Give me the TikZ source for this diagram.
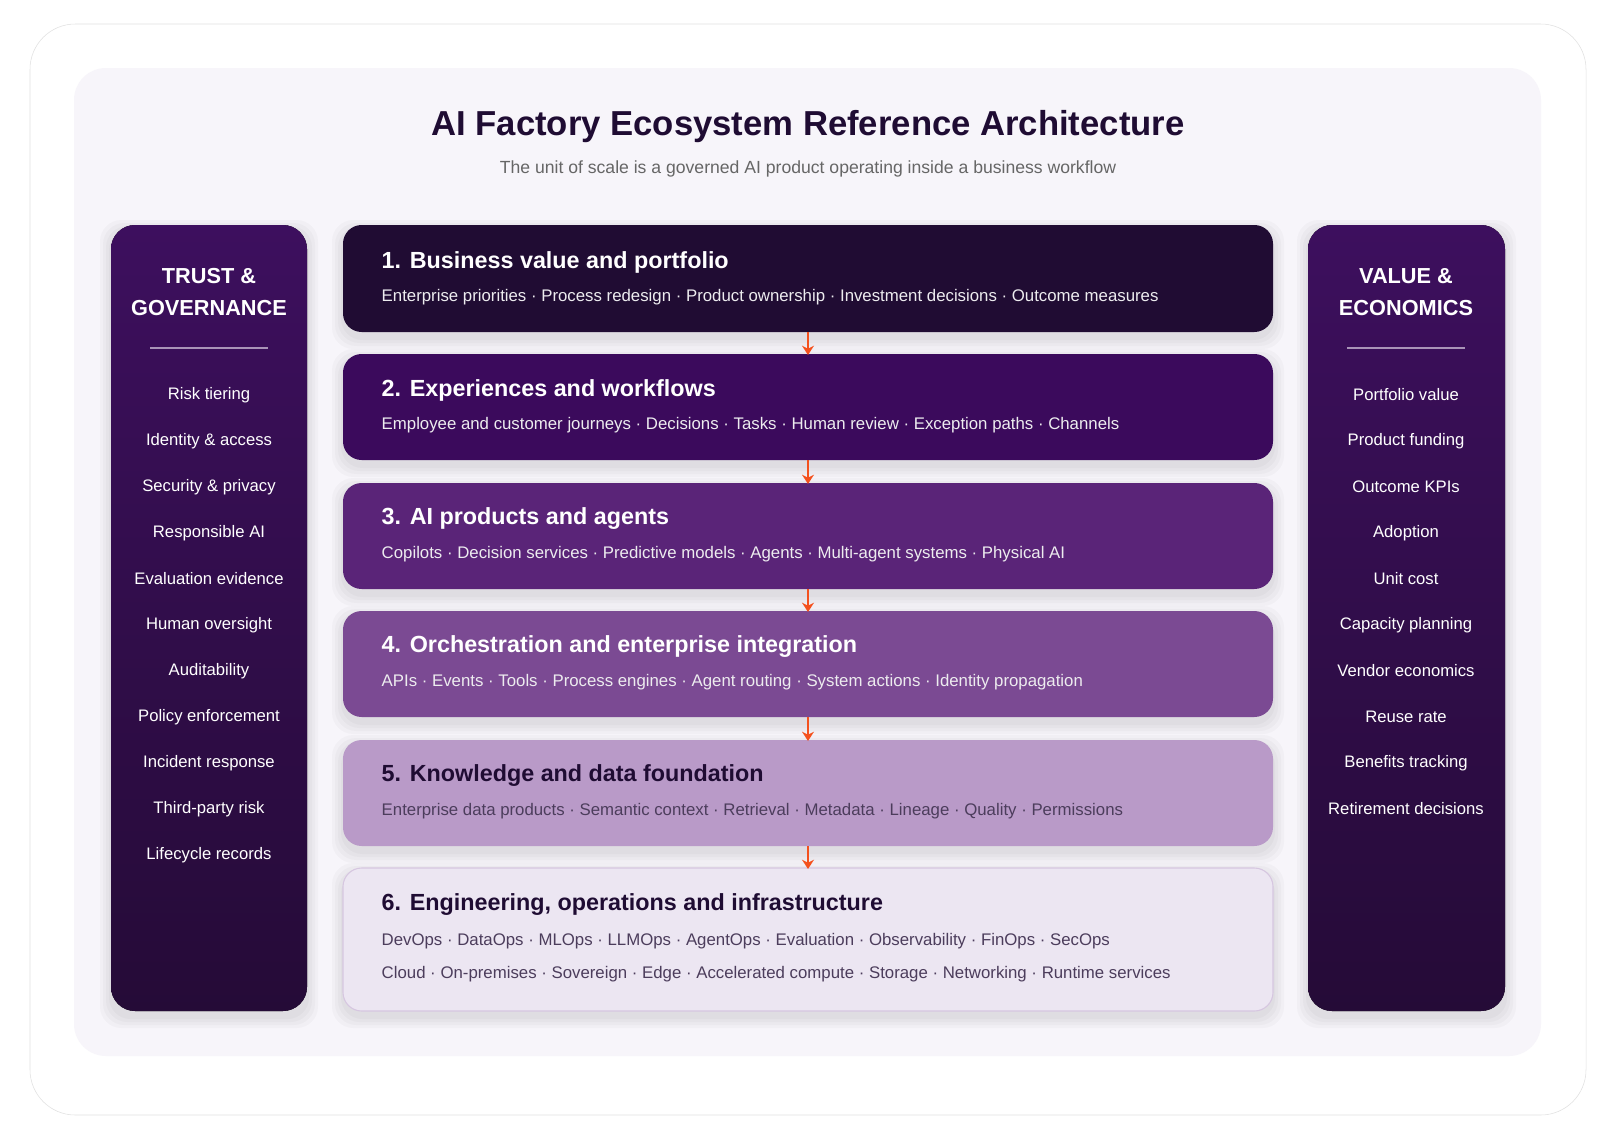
\documentclass[tikz,border=0pt]{standalone}
\usepackage{fontspec}
\setmainfont{Liberation Sans}
\usetikzlibrary{arrows.meta}
\definecolor{ink}{HTML}{1F0C33}
\definecolor{Lone}{HTML}{200C33}
\definecolor{Ltwo}{HTML}{3B0A5C}
\definecolor{Lthree}{HTML}{5A2478}
\definecolor{Lfour}{HTML}{7B4A93}
\definecolor{Lfive}{HTML}{B99AC8}
\definecolor{Lsix}{HTML}{ECE6F2}
\definecolor{Lsixb}{HTML}{D6C6E0}
\definecolor{sidetop}{HTML}{3D0F5E}
\definecolor{sidebot}{HTML}{250B37}
\definecolor{panel}{HTML}{F7F5FA}
\definecolor{arrowc}{HTML}{F4511E}
\newcommand\mysoftshadow[4]{%
  \foreach \e in {2,5,8,11}
    \fill[black,opacity=0.025,rounded corners=16pt] (#1-\e,#2-\e+6) rectangle (#3+\e,#4+\e+6);}
\begin{document}
\begin{tikzpicture}[x=0.75pt,y=-0.75pt,
  layer/.style={rounded corners=14pt},
  head/.style={anchor=west,font=\bfseries\fontsize{17.5}{20}\selectfont},
  sub/.style={anchor=west,font=\fontsize{12.6}{15}\selectfont},
  side/.style={rounded corners=18pt,top color=sidetop,bottom color=sidebot},
  sidehead/.style={align=center,text=white,font=\bfseries\fontsize{16.3}{24}\selectfont},
  item/.style={text=white,font=\fontsize{12.5}{15}\selectfont},
  flow/.style={arrowc,line width=2.2pt,-{Stealth[length=7pt,width=9pt]}}]
\useasboundingbox (0,0) rectangle (1614,1139);
\fill[white] (0,0) rectangle (1614,1139);
\draw[draw=black!12,fill=white!97!panel,rounded corners=34pt] (30,24) rectangle (1586,1115);
\fill[panel,rounded corners=24pt] (74,68) rectangle (1541,1056);
\node[font=\bfseries\fontsize{26}{30}\selectfont,text=ink] (title) at (808,127) {AI Factory Ecosystem Reference Architecture};
\node[font=\fontsize{13.2}{16}\selectfont,text=black!60] (subtitle) at (808,169) {The unit of scale is a governed AI product operating inside a business workflow};
% shadows
\mysoftshadow{111}{225}{307}{1011}
\mysoftshadow{1308}{225}{1505}{1011}
\mysoftshadow{343}{225}{1273}{332}
\mysoftshadow{343}{354}{1273}{460}
\mysoftshadow{343}{483}{1273}{589}
\mysoftshadow{343}{611}{1273}{717}
\mysoftshadow{343}{740}{1273}{846}
\mysoftshadow{343}{868}{1273}{1011}
% sidebars
\fill[side] (111,225) rectangle (307,1011);
\fill[side] (1308,225) rectangle (1505,1011);
\node[sidehead] (lh) at (209,292) {TRUST \&\\GOVERNANCE};
\node[sidehead] (rh) at (1406,292) {VALUE \&\\ECONOMICS};
\draw[white!55!sidetop,line width=0.8pt] (150,348) -- (268,348);
\draw[white!55!sidetop,line width=0.8pt] (1347,348) -- (1465,348);
\foreach \t [count=\i from 0] in {Risk tiering,Identity \& access,Security \& privacy,Responsible AI,Evaluation evidence,Human oversight,Auditability,Policy enforcement,Incident response,Third-party risk,Lifecycle records}
  \node[item] (l\i) at (209,395+46*\i) {\t};
\foreach \t [count=\i from 0] in {Portfolio value,Product funding,Outcome KPIs,Adoption,Unit cost,Capacity planning,Vendor economics,Reuse rate,Benefits tracking,Retirement decisions}
  \node[item] (r\i) at (1406,395+46*\i) {\t};
% layers
\fill[layer,Lone] (343,225) rectangle (1273,332);
\node[head,text=white] at (377,262) {1. Business value and portfolio};
\node[sub,text=white!92!ink] at (377,297) {Enterprise priorities · Process redesign · Product ownership · Investment decisions · Outcome measures};
\fill[layer,Ltwo] (343,354) rectangle (1273,460);
\node[head,text=white] at (377,390) {2. Experiences and workflows};
\node[sub,text=white!92!ink] at (377,425) {Employee and customer journeys · Decisions · Tasks · Human review · Exception paths · Channels};
\fill[layer,Lthree] (343,483) rectangle (1273,589);
\node[head,text=white] at (377,519) {3. AI products and agents};
\node[sub,text=white!92!ink] at (377,554) {Copilots · Decision services · Predictive models · Agents · Multi-agent systems · Physical AI};
\fill[layer,Lfour] (343,611) rectangle (1273,717);
\node[head,text=white] at (377,647) {4. Orchestration and enterprise integration};
\node[sub,text=white!92!ink] at (377,682) {APIs · Events · Tools · Process engines · Agent routing · System actions · Identity propagation};
\fill[layer,Lfive] (343,740) rectangle (1273,846);
\node[head,text=ink] at (377,776) {5. Knowledge and data foundation};
\node[sub,text=ink!80] at (377,811) {Enterprise data products · Semantic context · Retrieval · Metadata · Lineage · Quality · Permissions};
\filldraw[layer,fill=Lsix,draw=Lsixb,line width=0.8pt] (343,868) rectangle (1273,1011);
\node[head,text=ink] at (377,905) {6. Engineering, operations and infrastructure};
\node[sub,text=ink!80] at (377,941) {DevOps · DataOps · MLOps · LLMOps · AgentOps · Evaluation · Observability · FinOps · SecOps};
\node[sub,text=ink!80] at (377,974) {Cloud · On-premises · Sovereign · Edge · Accelerated compute · Storage · Networking · Runtime services};
% arrows
\coordinate (a1) at (808,332); \coordinate (b1) at (808,355);
\coordinate (a2) at (808,460); \coordinate (b2) at (808,484);
\coordinate (a3) at (808,589); \coordinate (b3) at (808,612);
\coordinate (a4) at (808,717); \coordinate (b4) at (808,741);
\coordinate (a5) at (808,846); \coordinate (b5) at (808,869);
\foreach \i in {1,...,5} \draw[flow] (a\i) -- (b\i);
\end{tikzpicture}
\end{document}
